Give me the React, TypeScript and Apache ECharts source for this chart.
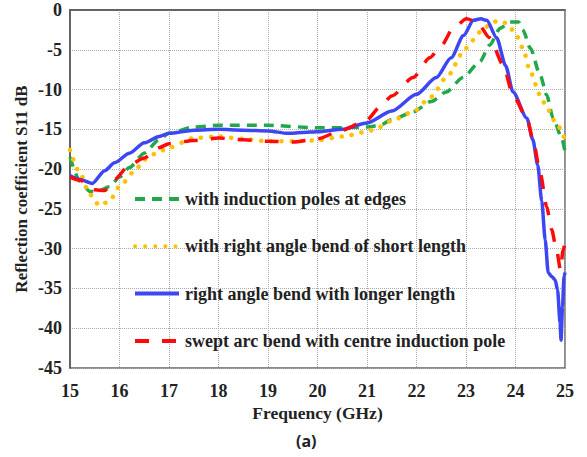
import React, { useEffect, useRef } from "react";
import * as echarts from "echarts";

const seriesNames = [
  "with induction poles at edges",
  "with right angle bend of short length",
  "right angle bend with longer length",
  "swept arc bend with centre induction pole",
];

const greenFreq = [15, 15.2, 15.4, 15.6, 15.8, 16, 16.2, 16.5, 16.8, 17, 17.5, 18, 19, 20, 20.5, 21, 21.26, 21.5, 21.93, 22.3, 22.6, 22.94, 23.28, 23.48, 23.69, 23.89, 24.06, 24.15, 24.3, 24.5, 24.63, 24.76, 24.93, 25];
const greenS11 = [-18.5, -21.5, -22.8, -22.7, -22.2, -21, -19.8, -18, -16.3, -15.5, -14.7, -14.5, -14.5, -14.8, -14.8, -14.7, -14.5, -13.8, -12.8, -11.5, -10.3, -8.5, -6.5, -4.4, -2.3, -1.5, -1.5, -2.5, -4.8, -8.2, -10.7, -13.6, -16, -17.8];

const yellowFreq = [15, 15.2, 15.4, 15.6, 15.8, 16, 16.3, 16.5, 16.8, 17, 17.5, 18, 18.5, 19, 19.5, 20, 20.5, 21, 21.26, 21.5, 21.93, 22.3, 22.6, 23.0, 23.28, 23.55, 23.69, 23.85, 24.0, 24.15, 24.3, 24.5, 24.63, 24.83, 25];
const yellowS11 = [-17.6, -20.5, -23.2, -24.6, -24.0, -22.2, -20.3, -18.8, -17.8, -17.3, -16.1, -15.9, -16.2, -16.5, -16.5, -16.4, -15.9, -15.3, -14.7, -13.9, -12.8, -10.9, -8.5, -4.8, -2.8, -1.5, -1.3, -1.8, -3.0, -4.8, -7.8, -10.7, -12.3, -14.3, -16.3];

const blueFreq = [15, 15.2, 15.45, 15.7, 15.9, 16.2, 16.5, 16.8, 17, 17.5, 18, 18.5, 19, 19.4, 19.7, 20, 20.5, 21, 21.5, 22, 22.4, 22.7, 22.95, 23.15, 23.3, 23.42, 23.62, 23.8, 23.95, 24.23, 24.35, 24.45, 24.53, 24.6, 24.66, 24.73, 24.8, 24.85, 24.9, 24.92, 24.95, 24.98, 25];
const blueS11 = [-20.8, -21.3, -21.8, -20.2, -19.2, -18, -16.7, -15.9, -15.5, -15.1, -15, -15.1, -15.2, -15.5, -15.4, -15.3, -15, -14.2, -12.7, -10.6, -8.5, -6.0, -3.2, -1.3, -1.1, -1.3, -3.5, -7, -10.3, -13.6, -16.3, -19.5, -24, -28.9, -33, -33.5, -33.9, -35.2, -39.3, -41.5, -37.3, -33.5, -33];

const redFreq = [15, 15.2, 15.5, 15.7, 15.9, 16.2, 16.5, 16.8, 17, 17.5, 18, 18.5, 19, 19.5, 20, 20.5, 21, 21.26, 21.5, 21.93, 22.27, 22.5, 22.74, 23.01, 23.22, 23.48, 23.75, 23.95, 24.23, 24.36, 24.5, 24.63, 24.73, 24.83, 24.91, 24.96, 25];
const redS11 = [-21, -21.4, -22.6, -22.7, -21.3, -19.5, -18.6, -17.3, -16.8, -16.4, -16.1, -16.3, -16.5, -16.6, -16.2, -15.1, -13.8, -12.2, -10.8, -8.5, -6, -4.5, -2.3, -1.1, -1.5, -3.5, -6.9, -10.7, -13.6, -16.5, -20.5, -24.7, -27.6, -30.2, -32.7, -30.2, -29.3];

const xTicks = [15, 16, 17, 18, 19, 20, 21, 22, 23, 24, 25];

const pair = (f: number[], v: number[]) => f.map((x, i) => [x, v[i]]);

const FONT = "'Liberation Serif', 'Times New Roman', serif";

export default function App() {
  const ref = useRef<HTMLDivElement>(null);
  useEffect(() => {
    if (!ref.current) return;
    const chart = echarts.init(ref.current, undefined, { renderer: "svg" });
    const common = {
      type: "line",
      showSymbol: false,
      symbol: "none",
      smooth: 0.25,
      smoothMonotone: "x",
    };
    chart.setOption({
      animation: false,
      backgroundColor: "#fff",
      grid: {
        left: 70,
        top: 10,
        right: 22,
        bottom: 89,
        show: true,
        borderColor: "#666",
        borderWidth: 1.5,
        backgroundColor: "transparent",
      },
      legend: {
        orient: "vertical",
        left: 128,
        top: 185,
        itemWidth: 44,
        itemHeight: 18,
        itemGap: 29.3,
        data: seriesNames,
        itemStyle: { opacity: 0 },
        lineStyle: { width: 4 },
        textStyle: {
          fontFamily: FONT,
          fontWeight: "bold",
          fontSize: 18,
          color: "#222",
          padding: [0, 0, 0, 1],
        },
      },
      xAxis: {
        type: "value",
        min: 15,
        max: 25,
        interval: 1,
        name: "Frequency (GHz)",
        nameLocation: "middle",
        nameGap: 36,
        nameMoveOverlap: false,
        nameTextStyle: { fontFamily: FONT, fontWeight: "bold", fontSize: 17.5, color: "#222" },
        axisLine: { show: true, lineStyle: { color: "#555", width: 1.5 } },
        axisTick: { show: false },
        axisLabel: {
          fontFamily: FONT,
          fontWeight: "bold",
          fontSize: 18,
          color: "#222",
          margin: 14,
          formatter: (v: number) => (xTicks.includes(v) ? String(v) : ""),
        },
        splitLine: { show: true, lineStyle: { type: "dotted", color: "#aaa", width: 1 } },
      },
      yAxis: {
        type: "value",
        min: -45,
        max: 0,
        interval: 5,
        name: "Reflection coefficient S11 dB",
        nameLocation: "middle",
        nameGap: 40,
        nameMoveOverlap: false,
        nameRotate: 90,
        nameTextStyle: { fontFamily: FONT, fontWeight: "bold", fontSize: 17, color: "#222" },
        axisLine: { show: true, lineStyle: { color: "#555", width: 1.5 } },
        axisTick: { show: false },
        axisLabel: {
          fontFamily: FONT,
          fontWeight: "bold",
          fontSize: 18,
          color: "#222",
          margin: 8,
        },
        splitLine: { show: true, lineStyle: { type: "dotted", color: "#aaa", width: 1 } },
      },
      graphic: [
        {
          type: "text",
          left: 296,
          top: 433,
          style: {
            text: "(a)",
            font: "bold 16px 'Open Sans', 'Noto Sans', sans-serif",
            fill: "#222",
          },
        },
      ],
      series: [
        {
          ...common,
          name: seriesNames[0],
          data: pair(greenFreq, greenS11),
          z: 2,
          lineStyle: { color: "#20a84a", width: 3.5, type: [10, 7] },
          itemStyle: { color: "#20a84a" },
        },
        {
          ...common,
          name: seriesNames[1],
          data: pair(yellowFreq, yellowS11),
          z: 3,
          lineStyle: { color: "#ffc000", width: 4.5, type: [0.1, 10], cap: "round" },
          itemStyle: { color: "#ffc000" },
        },
        {
          ...common,
          name: seriesNames[2],
          data: pair(blueFreq, blueS11),
          z: 4,
          lineStyle: { color: "#3c46f2", width: 3.5, type: "solid" },
          itemStyle: { color: "#3c46f2" },
        },
        {
          ...common,
          name: seriesNames[3],
          data: pair(redFreq, redS11),
          z: 5,
          lineStyle: { color: "#ff0a0a", width: 3.5, type: [14, 13] },
          itemStyle: { color: "#ff0a0a" },
        },
      ],
    });
    return () => chart.dispose();
  }, []);
  return (
    <div
      ref={ref}
      style={{ position: "fixed", left: 0, top: 0, width: 587, height: 457 }}
    />
  );
}
